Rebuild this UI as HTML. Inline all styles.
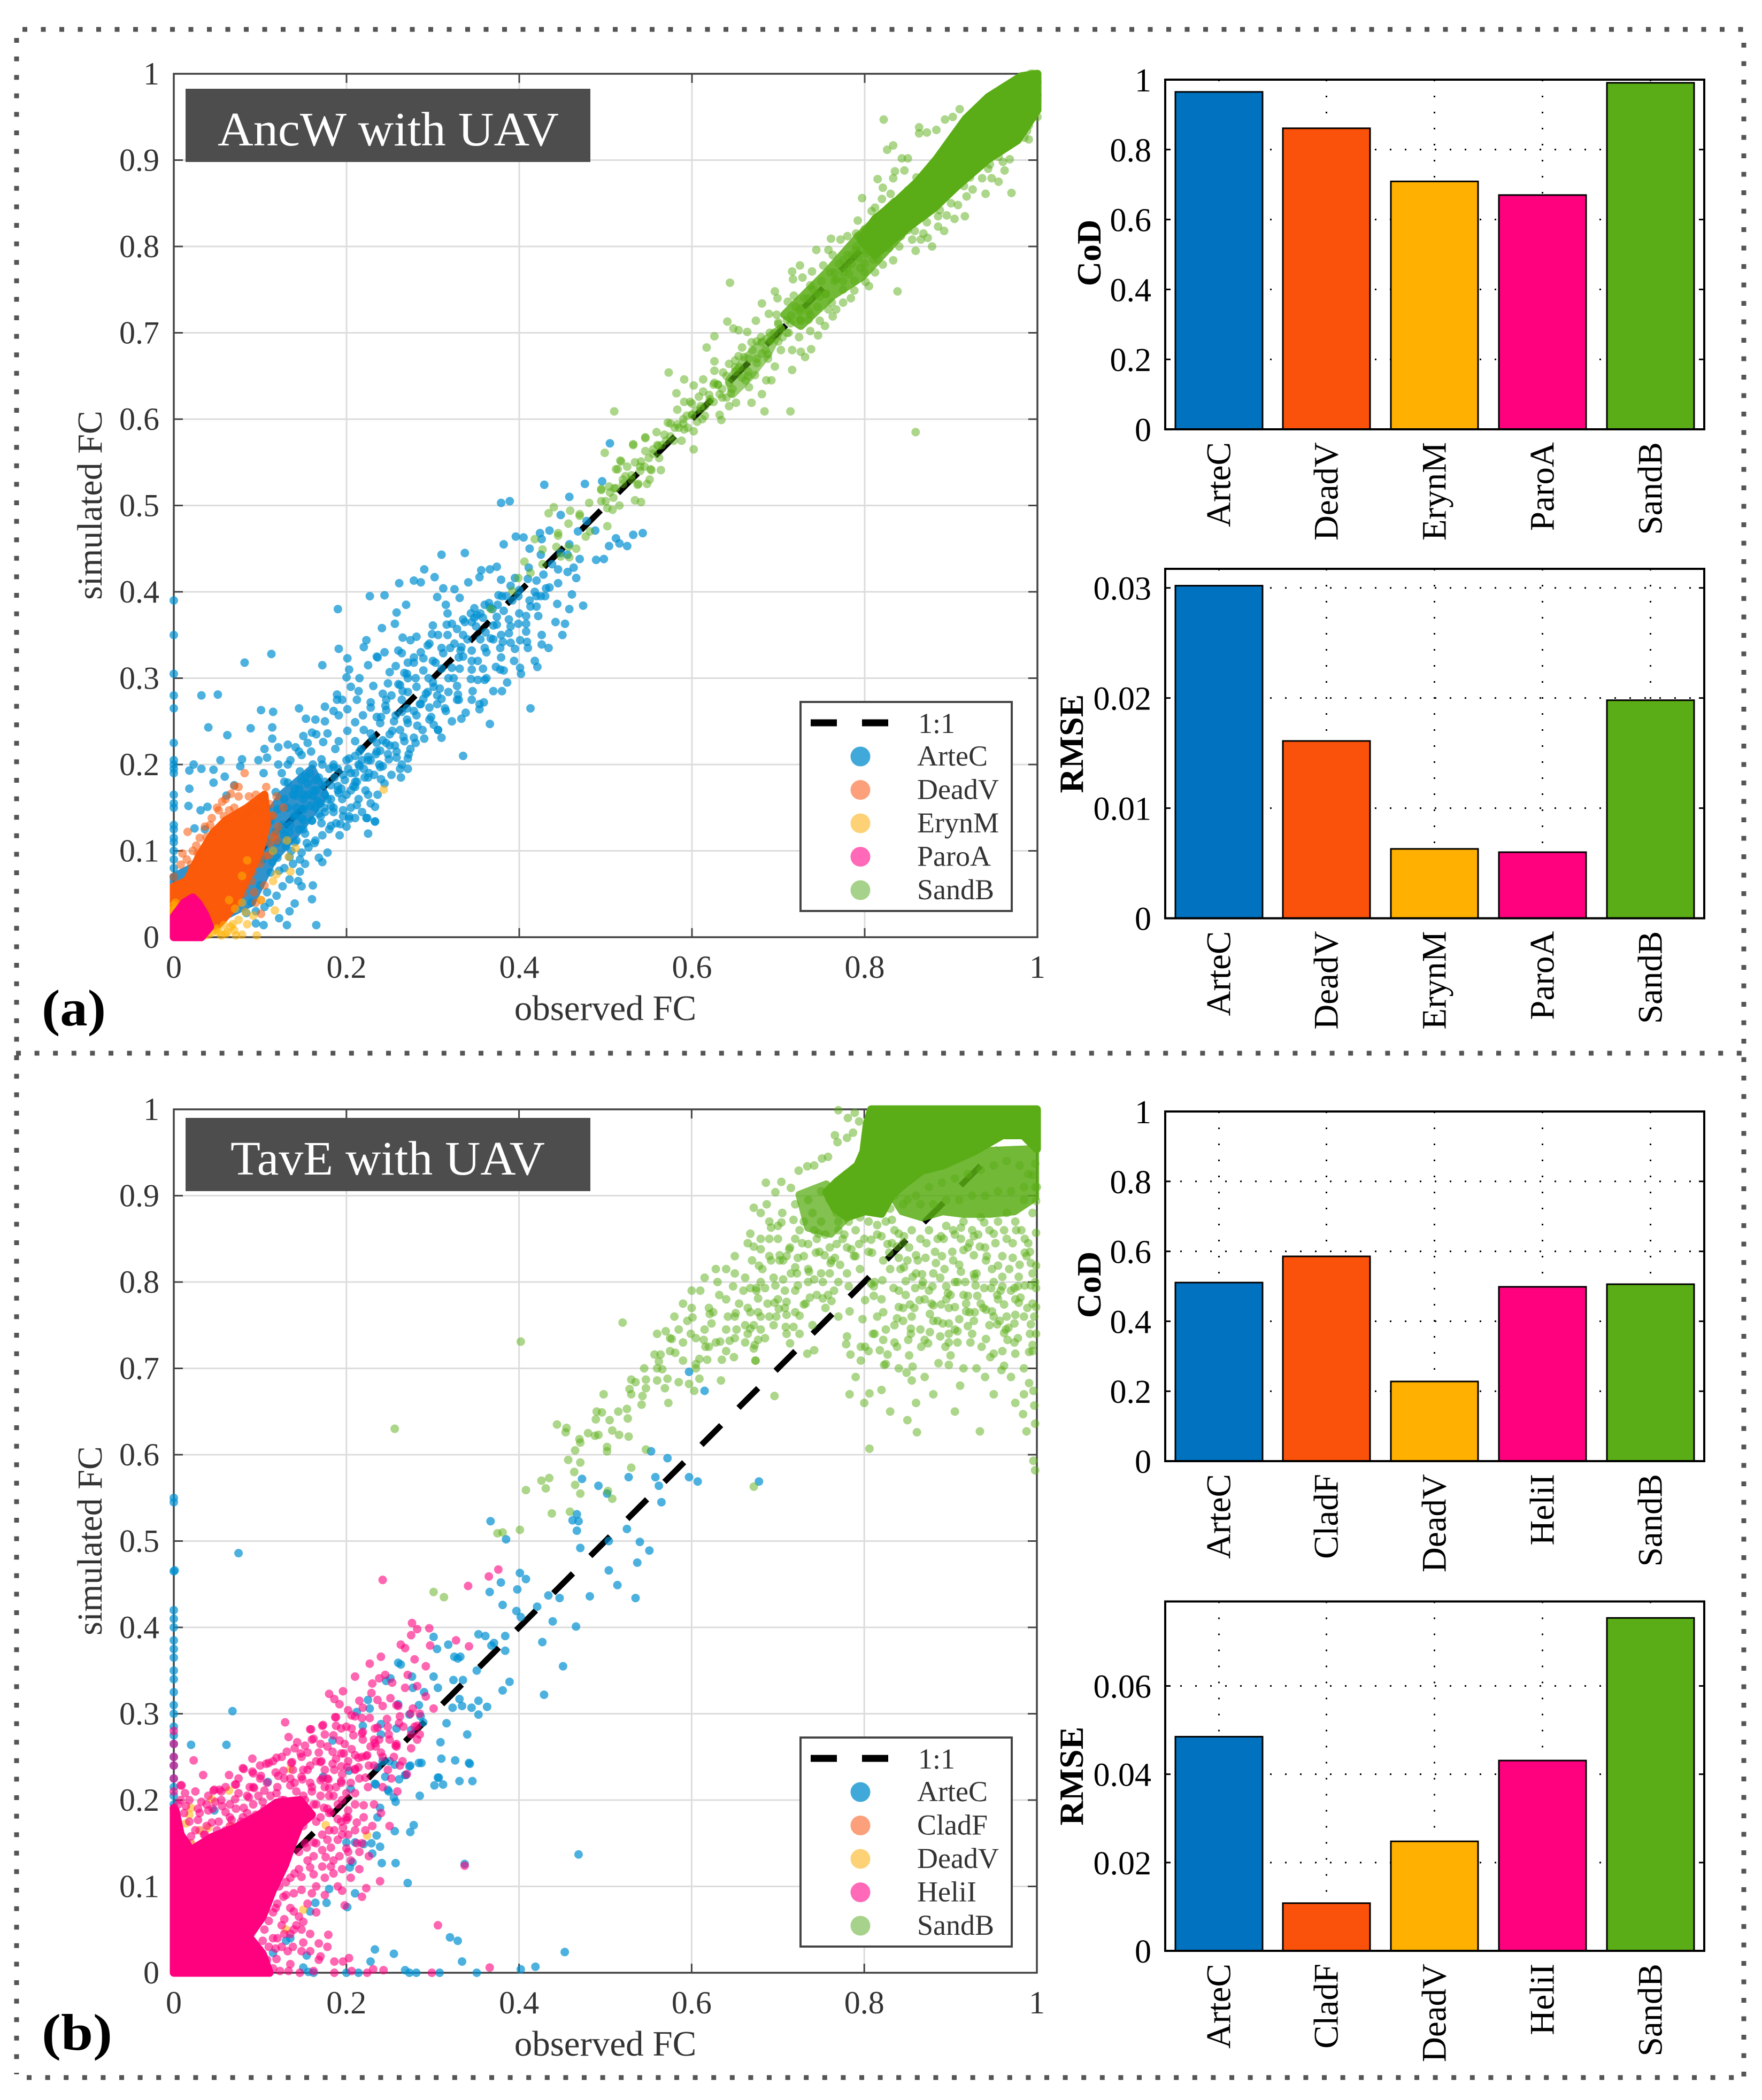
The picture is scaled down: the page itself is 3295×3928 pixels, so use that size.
<!DOCTYPE html>
<html lang="en">
<head>
<meta charset="utf-8">
<title>Observed vs simulated FC: AncW and TavE with UAV</title>
<style>
html,body{margin:0;padding:0;background:#fff}
svg{display:block}
text{font-family:"Liberation Serif",serif}
</style>
</head>
<body>
<svg id="figure" xmlns="http://www.w3.org/2000/svg" width="3295" height="3928" viewBox="0 0 3295 3928">
<rect width="3295" height="3928" fill="#fff"/>
<g id="panelAScatter"></g>
<g id="panelABars1"></g>
<g id="panelABars2"></g>
<g id="panelBScatter"></g>
<g id="panelBBars1"></g>
<g id="panelBBars2"></g>
<g stroke="#555" stroke-width="9" fill="none">
<line x1="42" y1="55" x2="3265" y2="55" stroke-dasharray="9 25.5"/>
<line x1="31" y1="71" x2="31" y2="3880" stroke-dasharray="9 25.6"/>
<line x1="3261" y1="80" x2="3261" y2="3890" stroke-dasharray="9 25.5"/>
<line x1="30" y1="1970" x2="3261" y2="1970" stroke-dasharray="9 25.6"/>
<line x1="50" y1="3886" x2="3261" y2="3886" stroke-dasharray="9 25.6"/>
</g>
<text x="78" y="1918" font-size="96" font-weight="bold" fill="#000" textLength="120" lengthAdjust="spacingAndGlyphs">(a)</text>
<text x="78" y="3834" font-size="96" font-weight="bold" fill="#000" textLength="132" lengthAdjust="spacingAndGlyphs">(b)</text>
</svg>
<script>
// Shared axis ticks
const scatterTicksX = [0, .2, .4, .6, .8, 1];
const scatterTicksY = [0, .1, .2, .3, .4, .5, .6, .7, .8, .9, 1];
const codTicks = [0, .2, .4, .6, .8, 1];
const rmseTicksA = [0, .01, .02, .03];
const rmseTicksB = [0, .02, .04, .06];

// Bar chart categories and values
const barNamesA = ['ArteC', 'DeadV', 'ErynM', 'ParoA', 'SandB'];
const barNamesB = ['ArteC', 'CladF', 'DeadV', 'HeliI', 'SandB'];
const codValuesA = [.965, .861, .709, .67, .991];
const rmseValuesA = [.0302, .0161, .0063, .006, .0198];
const codValuesB = [.5107, .5856, .2278, .4985, .506];
const rmseValuesB = [.0485, .0108, .0248, .0431, .0754];

// Panel (a) scatter points, flat x,y pairs in FC x 1000
const arteCPointsA = [505,572,429,524,476,525,496,528,458,510,379,503,389,505,448,489,488,471,435,471,424,468,396,464,405,463,426,461,382,455,532,466,543,468,512,462,516,456,525,453,504,453,489,437,498,438,412,450,337,445,310,443,425,443,456,443,470,438,411,428,463,428,456,423,445,426,374,429,366,426,356,425,354,417,290,426,302,417,278,413,286,411,261,410,341,411,312,404,325,403,379,414,395,416,390,407,445,410,431,404,466,416,420,413,376,396,399,395,420,395,430,395,461,397,444,386,474,384,413,383,420,383,227,395,244,396,305,394,331,393,269,385,315,385,190,380,258,376,317,375,348,381,365,387,369,380,408,372,422,372,344,375,351,373,374,371,388,368,399,363,408,363,453,363,370,361,256,363,300,361,241,358,322,363,328,357,337,365,361,353,379,350,388,352,408,354,317,350,299,351,265,347,281,348,274,344,367,346,381,342,390,341,401,344,409,342,426,339,395,334,223,344,220,336,191,334,294,338,244,330,260,332,264,329,310,335,312,329,333,336,360,335,345,332,236,324,278,324,201,323,289,323,330,324,379,324,113,328,82,318,172,315,257,314,271,318,303,318,352,320,373,313,401,312,421,313,382,309,203,310,250,307,267,306,289,309,310,311,331,311,358,311,200,301,271,300,324,300,344,299,360,298,260,293,281,290,248,294,231,291,301,290,328,291,380,285,214,285,189,281,32,280,51,281,242,282,271,284,294,284,318,284,329,281,189,275,212,275,228,272,246,275,264,275,289,276,310,276,328,275,345,275,359,272,354,264,145,265,175,267,101,263,115,261,201,264,228,266,246,263,264,261,296,266,315,262,413,265,191,257,219,257,257,257,281,257,333,253,153,253,164,252,366,247,210,249,239,248,271,248,301,246,40,243,89,242,114,243,62,234,160,237,150,233,178,236,201,239,228,236,253,239,278,231,310,231,306,240,114,230,132,223,173,226,191,227,210,227,246,225,267,227,105,218,121,220,141,220,159,215,187,218,217,218,239,216,258,215,148,211,335,210,108,208,54,205,79,206,98,205,171,206,203,207,225,209,249,206,271,207,23,200,32,195,18,193,77,198,121,200,132,200,161,200,185,197,214,200,239,197,262,195,271,195,46,194,104,190,59,186,146,192,153,186,196,188,221,185,232,188,263,185,240,183,18,172,46,179,70,176,61,164,132,179,164,182,182,176,210,174,225,165,191,167,141,164,161,164,17,152,31,147,39,151,233,151,212,153,182,152,196,147,150,149,168,143,223,138,233,134,171,132,182,129,193,131,24,126,36,125,225,120,139,140,203,140,178,98,172,87,168,92,161,60,160,44,140,39,165,14,131,14,104,14,95,16,122,22,134,30,233,134,224,138,203,137,154,109,163,109,146,90,134,93,146,76,148,59,126,59,134,67,122,77,114,87,103,90,119,48,111,40,138,85,142,112,152,120,0,390,0,350,0,305,0,280,0,265,0,225,0,205,0,200,0,195,0,190,0,165,0,155,0,150,0,130,0,125,0,115,0,110,0,100,0,90,0,80,0,70,175,180,190,175,185,200,200,205,165,170,210,190,215,215,225,205,235,225,250,235,220,240,240,255,255,250,270,265,285,270,265,285,280,300,295,300,305,280,300,320,320,335,335,350,345,320,355,345,345,365,375,385,385,395,355,375,195,160,205,170,185,150,170,155,150,135,160,135,175,145,125,125,130,105,145,125,115,100,190,195,210,210,230,230,150,165];
const arteCExtraA = [132,150,138,165,145,172,150,160,155,178,162,170,168,185,175,165,180,195,172,200,158,190,148,182,140,172,128,160,120,148,112,135,118,122,128,118,135,130,142,142,150,148,158,152,166,158,174,150,182,160,190,170,198,182,205,190,212,180,220,195,228,205,235,215,242,228,222,170,214,160,205,150,196,140,188,132,180,125,172,118,164,112,156,104,148,98,140,110,150,125,160,135,170,140,185,145,200,165,208,175,215,198,225,185,238,200,248,212,256,222,262,240,270,252,278,262,286,270,292,282,300,295,305,270,296,252,288,240,280,225,272,212,264,200,252,188,244,178,236,165,228,155,218,145,210,138,200,128,192,118,235,255,245,268,252,280,262,292,270,305,278,318,286,330,296,340,306,350,316,362,325,340,335,325,345,310,352,298,318,300,308,288,322,312,332,332,340,345,350,360,358,370,366,382,374,362,382,378,392,390,400,402,410,415,418,400,428,420,438,432,448,445,458,455,468,470,478,482,362,330,370,345,378,335,390,360,400,375,412,390,425,395,435,405,380,395,360,385,348,370,335,368,128,180,118,168,108,150,100,132,92,120,85,105,125,190,135,205,145,215,155,225,165,235,175,250,185,262,195,275,205,290,215,300,225,315,235,325,108,110,100,100,112,75,120,92,128,80,136,100,144,65,152,85,100,60,108,52,90,40,84,28,95,30,105,35,120,110,126,130,134,122,142,150,148,138,156,165,164,150,172,176,178,160,186,185,194,172,202,195,210,180,218,205,226,190,234,212,242,198,250,222,258,208,266,232,274,218,282,245,290,230,298,255,306,240,314,265,322,250,330,275,338,260,346,285,354,270,362,300,370,285,378,310,386,295,394,320,402,305,410,335,418,320,426,350,434,335,442,365,450,350,458,380];
const deadVPointsA = [82,190,75,174,107,174,87,163,66,166,119,163,127,150,52,147,44,138,36,128,16,122,38,116,26,106,10,97,8,84,20,84,28,97,0,70,115,116,119,112,105,94,91,75,93,52,101,27,101,43,75,163,56,157,95,150,111,154,87,144,64,147,46,122,60,135,115,141,107,131,121,128,103,116,111,109,93,84,83,59,75,40];
const deadVExtraA = [70,175,60,160,50,150,42,130,30,115,22,100,15,90,95,165,105,160,100,145,112,140,90,150,80,140,70,150,58,140,118,120,110,95,100,85,90,65,80,50,105,60,95,40];
const erynMPointsA = [243,171,141,103,131,112,133,93,115,100,119,73,115,65,135,76,85,89,79,71,71,33,79,40,64,43,83,29,101,43,117,31,96,2,79,3,52,6,44,5,36,2,68,15,0,37,0,30,60,4,70,8,40,3,48,8,55,2,62,6,72,2,66,12,58,14,50,10,30,2,35,10,0,32,0,25,2,40,75,20,85,15,92,25];
const sandBPointsA = [822,947,863,938,863,931,872,932,883,935,893,947,902,950,910,959,826,912,833,917,843,902,850,902,815,878,835,887,833,879,846,888,821,868,830,861,820,855,797,856,812,845,970,862,962,888,940,861,918,858,908,848,916,835,904,832,895,836,887,842,885,823,892,818,878,800,859,795,873,810,865,808,855,808,868,815,850,819,955,875,968,901,960,898,985,926,990,924,988,934,943,890,947,879,925,866,936,879,955,904,805,754,838,748,833,784,821,779,812,770,801,759,788,749,775,735,784,740,792,830,808,841,761,809,772,808,780,812,744,796,790,815,758,796,725,778,716,771,717,762,728,764,739,771,696,748,699,740,681,734,644,758,711,736,718,743,737,755,752,778,763,790,775,784,793,787,767,762,782,768,754,708,763,719,748,714,767,727,758,727,746,697,737,702,724,695,689,722,698,721,674,714,641,713,648,705,654,703,664,701,626,696,617,683,681,689,692,692,703,705,714,711,726,714,737,721,716,680,726,678,738,681,731,672,703,680,696,661,716,657,658,683,669,689,654,673,666,670,681,676,688,670,626,667,643,664,636,654,626,656,573,654,591,646,602,639,613,646,626,642,643,642,658,648,673,651,686,645,692,645,666,637,582,630,613,632,632,629,647,635,681,629,669,619,651,619,643,615,684,609,714,609,859,585,510,609,583,611,591,620,598,620,608,626,621,623,634,599,632,605,615,604,606,597,594,604,583,594,572,596,568,582,602,586,602,565,559,585,546,579,532,571,499,561,517,552,534,550,514,542,564,541,553,541,538,525,551,530,504,522,495,519,546,563,561,569,579,575,591,588,546,578,532,570,518,551,512,542,541,551,552,542,537,524,523,534,495,518,509,509,502,497,481,503,440,498,434,491,459,494,470,488,457,479,502,476,477,464,445,468,418,461,466,450,457,452,443,452,427,449,448,441,406,435,427,432,413,422,399,416,392,401,367,380,516,500,534,506,541,504,620,620,630,640,600,605,590,600,610,612,640,625,650,655,665,655,675,665,690,690,700,690,710,700,725,725,735,740,745,730,755,745,765,770,775,760,785,790,795,775,805,800,810,785,815,820,825,805,835,830,840,845,850,835,860,855,870,860,880,865,890,890,900,885,910,905,920,915,930,925,940,930,950,925,960,945,970,950,980,960,545,545,555,560,565,570,575,580,585,590,595,590,505,515,520,525,530,530,540,540];
const sandBExtraA = [780,775,790,800,800,780,810,815,820,800,825,830,835,810,845,850,840,800,855,840,860,870,870,845,875,880,885,860,890,890,895,870,905,905,910,880,915,925,925,895,930,935,935,905,945,955,950,915,955,925,960,960,965,935,970,965,975,945,980,975,985,950,990,985,995,965,1000,990,1000,975,995,1000,985,995,975,985,965,980,950,970,940,962,930,950,920,940,910,925,900,915,890,905,880,895,870,885,860,880,850,865,840,855,830,845,820,835,810,825,800,820,790,795,780,790,770,780,760,770,750,760,740,750,730,740,720,730,710,715,700,710,690,700,680,695,670,680,660,672,650,660,640,650,630,640,620,628,610,615,600,605,590,595,580,590,570,575,560,570,550,555,540,545,530,535,520,530,510,520,500,505,945,925,955,915,965,925,975,940,985,945,990,955,930,915,920,905,905,885,895,885,885,870,875,870,865,855,855,840,845,830,835,825,825,820,815,810,805,795,795,795,785,780,775,770,765,760,755,745,745,745,735,725,725,715,715,720,705,695,695,700,685,680,675,670,665,650,655,660,645,630,635,635,625,620,615,615,605,610,792,812,802,792,812,828,822,812,832,842,842,820,852,862,862,838,872,885,882,848,892,905,902,868,912,925,922,880,932,945,942,905,952,965,962,925,972,985,982,945,992,1000,1000,950,990,940,975,930,958,918,945,895,930,890,915,870,900,850,885,835,872,828,858,818,842,812,828,798,815,785,800,770,788,760,775,750,762,735,748,742,735,715,725,728,712,700,700,712,688,675,675,690,662,645,650,668,635,625,625,640,612,600,600,618,588,575,575,595,562,555,555,565,548,525,525,545,512,520,508,495,495,505,482,470,470,490,458,440,445,465];

// Panel (a) dense clouds, outlines in FC x 1000
const arteCCoreA = [[0,30],[50,20],[90,40],[115,90],[150,130],[175,165],[160,195],[125,165],[100,125],[60,100],[0,70]];
const deadVCoreA = [[0,59],[15,65],[30,95],[45,120],[60,135],[85,150],[105,165],[108,130],[99,97],[83,65],[68,33],[52,15],[32,8],[0,27]];
const paroACoreA = [[0,0],[32,0],[42,12],[36,27],[28,40],[22,46],[12,40],[0,24]];
const sandBCoreA = [[795,808],[812,832],[831,847],[861,875],[883,901],[917,948],[943,973],[981,997],[1000,1000],[1000,958],[977,923],[943,901],[906,869],[880,844],[846,819],[812,790]];
const sandBMidA = [[707,721],[756,770],[793,812],[835,852],[850,822],[797,765],[763,743],[726,708]];
const sandBLowA = [[643,645],[662,670],[681,689],[703,705],[688,676],[666,648],[647,629]];

// Panel (b) scatter points, flat x,y pairs in FC x 1000
const arteCPointsB = [75,486,1,466,367,523,385,502,467,512,462,524,469,523,467,531,471,492,504,500,525,514,540,499,551,489,537,475,504,466,514,449,535,434,482,436,447,434,434,437,421,424,401,463,408,456,379,452,398,444,366,441,381,426,397,419,402,412,439,407,466,401,427,383,451,355,384,390,361,390,353,392,301,389,318,380,305,375,371,382,368,379,384,373,329,364,325,366,332,366,260,359,263,357,351,350,301,343,276,343,251,341,246,338,324,339,335,339,306,330,277,330,389,337,381,327,429,322,290,325,225,316,331,317,353,315,363,308,345,307,334,309,323,307,284,310,260,311,273,299,353,299,286,297,212,302,227,306,289,290,316,289,340,276,219,286,240,288,258,283,275,281,240,276,184,269,309,267,20,264,61,264,310,248,326,246,342,243,284,243,273,239,242,245,250,245,236,238,256,241,268,229,245,227,306,226,331,222,346,222,302,217,312,218,261,224,234,218,173,227,203,234,109,221,205,213,248,212,68,303,553,604,473,572,492,564,502,555,527,574,558,574,562,564,565,545,597,574,607,569,572,596,597,696,615,674,678,569,343,242,307,226,285,205,287,243,274,240,269,229,233,219,255,203,249,210,257,198,239,191,236,180,235,159,256,164,278,171,274,163,239,146,229,150,220,149,210,151,200,151,230,138,241,127,257,127,207,128,204,122,271,104,180,97,210,92,164,81,177,81,158,71,201,76,329,37,233,27,255,22,334,13,228,13,268,3,273,0,281,0,308,0,351,0,200,0,214,0,154,20,150,6,156,1,162,0,115,23,130,37,135,40,47,188,419,7,402,4,469,137,453,24,320,41,337,126,0,550,0,545,0,465,0,420,0,410,0,400,0,385,0,375,0,365,0,350,0,340,0,325,0,310,0,300,0,285,0,275,0,265,0,250,0,240,0,225,0,215,0,205,0,195,0,190];
const cladFPointsB = [20,150,30,165,35,150];
const deadVPointsB = [224,159,44,201,20,191,18,183,14,173,40,168,67,170,52,157,12,141,150,73,130,50,91,19,135,236,64,211,176,171];
const heliIPointsB = [337,124,239,106,306,55,366,6,223,98,190,100,218,88,198,78,179,44,168,34,203,17,186,13,196,13,170,19,148,25,132,25,299,0,224,0,243,3,231,4,206,2,186,0,162,2,146,0,135,10,123,2,259,210,220,194,200,144,190,154,178,154,162,151,172,142,176,134,200,177,212,174,190,178,202,180,196,168,154,145,158,122,182,123,172,123,148,111,162,114,148,96,160,92,139,92,127,88,139,71,150,59,139,50,103,37,99,27,119,16,133,2,129,290,158,282,133,273,160,270,188,296,172,286,206,298,194,283,218,277,233,283,249,276,261,289,279,285,285,276,143,267,131,256,152,263,184,256,194,254,206,259,224,252,214,249,257,263,233,266,23,246,91,248,119,249,137,244,107,242,80,237,34,229,64,229,91,233,127,234,170,244,194,239,210,236,222,226,71,218,93,214,105,211,8,217,13,208,46,211,55,210,180,214,200,208,210,208,194,220,170,223,148,227,135,217,119,208,87,203,71,201,56,193,40,188,14,193,32,198,28,177,44,174,60,186,81,191,103,198,67,177,95,183,150,188,174,191,182,186,202,188,36,160,52,154,20,158,8,154,83,171,242,455,341,448,365,459,376,467,276,405,275,391,282,398,296,399,263,380,268,376,297,379,327,385,342,378,240,366,227,358,279,363,292,355,210,343,238,341,271,345,282,332,253,336,196,326,180,323,186,317,192,311,229,324,236,316,251,318,242,309,260,309,202,304,219,307,277,306,301,306,187,296,210,297,227,295,247,294,262,297,159,282,173,287,188,286,206,283,219,279,236,284,282,286,162,271,175,276,192,269,219,270,232,270,258,265,275,276,147,254,197,254,210,252,223,251,136,243,110,243,81,236,92,231,171,245,184,242,201,238,214,238,101,228,121,228,149,224,179,224,72,218,88,215,9,217,47,212,53,212,0,280,0,265,0,250,0,240,0,225,0,210,160,210,175,215,150,205,165,195,185,205,140,220,155,235,175,235,195,230,125,200,130,185,165,175,180,165,195,160,150,170,165,150,145,140,140,115,130,105,120,80,115,70,110,60,125,55,120,40,105,50,110,30,100,15,115,5,105,8];
const heliIExtraB = [5,195,12,185,18,175,25,165,30,185,38,170,45,190,52,175,60,165,65,180,72,190,78,175,85,185,92,195,98,205,105,190,112,205,120,215,128,200,135,225,142,210,150,235,158,220,165,245,172,225,180,205,188,215,195,200,205,220,215,225,225,215,232,240,240,255,248,235,255,250,265,245,275,260,285,300,292,320,268,330,258,310,248,285,238,270,228,262,218,295,208,275,198,265,188,248,178,262,168,255,158,240,148,250,138,235,128,225,118,232,108,220,100,225,92,215,85,205,75,208,65,195,55,200,48,198,38,195,28,190,18,200,8,200,162,195,170,180,178,190,186,165,194,175,202,160,210,165,218,150,226,135,215,140,205,130,195,120,185,130,175,110,165,100,155,130,145,120,135,110,130,90,122,100,118,75,128,62,135,45,142,55,150,35,158,45,125,30,115,40,108,15,118,28,142,190,152,200,160,215,170,205,178,225,186,235,194,222,202,245,210,235,218,250,226,240,234,262,242,250,250,270,258,262,266,285,274,300,282,270,180,185,190,195,200,180,210,195,220,180,230,170,240,185,250,170,215,120,205,110,195,95,185,115,175,90,165,70,155,80,145,65,135,75,128,45,138,30,148,50,158,25,168,15,178,30,142,170,135,160,152,150,162,135,172,160,182,145,192,135,202,140,212,150,222,165,232,195,242,215,252,225,262,240,270,230,110,185,95,175,80,180,65,170,50,165,35,160,15,150,5,170,25,210,40,205,60,215,75,225,100,240,115,245,125,250,140,260,155,255,170,265,185,275,200,285,215,315,230,335,245,345];
const sandBPointsB = [686,915,704,916,672,886,680,880,687,890,697,904,715,909,724,929,734,934,742,935,758,945,751,943,766,970,769,962,781,990,770,999,789,996,794,986,780,967,787,973,998,937,995,924,998,910,999,894,999,857,999,819,999,793,999,771,997,760,999,740,995,727,991,719,991,683,996,674,997,657,984,647,998,636,988,627,996,593,998,582,806,607,861,626,934,627,806,671,783,670,911,680,855,686,849,695,856,702,696,668,886,706,898,704,959,698,962,703,946,713,950,717,975,717,823,704,796,709,784,716,827,716,818,721,779,728,796,725,801,725,780,737,822,733,812,740,851,733,854,740,854,746,870,733,874,729,876,742,888,737,898,730,898,740,908,743,923,730,941,734,966,733,974,730,962,741,967,747,954,751,974,752,993,751,957,755,927,755,920,749,910,757,891,752,898,752,876,763,880,773,889,774,905,771,918,766,928,765,941,768,948,766,962,774,975,762,979,776,989,770,838,758,845,755,840,771,853,774,864,779,798,757,783,766,801,779,762,778,752,781,737,782,730,774,710,777,696,776,701,769,710,762,725,761,718,748,709,748,714,729,734,717,742,721,677,733,672,723,674,709,668,746,677,765,811,784,811,795,808,798,821,802,834,793,848,801,859,793,867,796,879,795,895,795,905,800,917,800,929,796,939,793,947,793,960,795,974,793,986,796,993,796,897,787,920,784,931,784,954,785,981,782,808,849,815,866,809,834,820,853,827,844,838,841,840,856,832,872,846,853,829,834,840,828,846,817,860,831,871,828,883,822,893,815,903,825,915,837,927,831,941,825,955,819,972,828,986,834,993,822,889,853,903,860,912,863,927,853,939,869,950,856,965,850,976,860,986,850,934,841,856,806,867,809,912,812,927,809,960,806,979,806,794,844,777,855,785,838,766,828,761,822,754,831,744,834,735,844,723,828,713,838,702,831,690,850,680,838,672,841,668,856,692,863,704,869,718,872,725,860,747,856,768,844,678,819,692,825,706,825,720,817,736,812,742,803,723,796,697,796,685,793,675,793,668,793,706,803,677,781,402,731,520,753,256,630,570,743,577,734,601,759,621,763,599,740,614,733,623,752,644,732,633,731,649,713,651,764,662,750,673,727,674,709,557,716,564,716,581,718,590,709,562,708,566,699,609,711,616,725,605,700,530,687,535,684,547,687,560,686,572,688,585,684,597,682,609,688,634,686,603,674,528,676,547,677,569,677,498,670,543,668,542,658,573,660,525,653,496,649,489,641,526,642,444,635,455,631,454,626,508,628,516,623,527,621,488,622,492,623,470,618,471,614,502,609,502,604,547,606,457,594,471,591,530,585,464,580,426,570,435,573,465,565,431,561,408,559,471,555,503,558,508,549,672,563,438,532,459,534,401,513,375,509,381,510,301,441,313,435];
const sandBExtraB = [560,740,580,760,590,775,610,790,620,770,630,800,640,780,650,810,660,790,670,825,650,760,640,745,665,770,680,800,690,830,700,850,710,830,720,850,730,870,740,880,750,870,760,895,745,850,730,830,715,810,700,780,690,760,680,745,760,840,770,860,780,840,790,860,800,850,805,870,815,855,825,870,835,860,845,845,855,860,865,850,875,860,885,850,895,865,905,855,915,870,925,860,935,875,945,860,955,870,965,880,975,870,985,895,995,880,820,780,830,815,840,790,850,825,860,810,870,780,880,810,890,830,900,785,910,820,920,840,930,810,940,840,950,800,960,830,970,790,980,820,990,845,995,810,805,720,815,760,825,745,835,730,845,770,855,760,865,745,875,790,885,755,895,780,905,745,915,785,925,740,935,775,945,750,955,780,965,760,975,780,985,760,995,775,790,690,820,675,840,700,870,690,900,715,930,700,960,720,985,700,995,720,860,660,905,650,950,670,975,660,720,790,735,800,750,810,765,790,780,810,790,830,770,760,755,770,740,750,725,740,710,740,695,750,680,760,665,740,650,735,635,710,620,725,605,735,590,730,575,720,560,700,545,700,530,670,515,650,505,640,490,650,480,625,465,605,800,900,810,920,790,905,780,890,770,870,815,890,830,885,845,890,860,900,875,910,890,915,905,920,920,925,935,930,950,935,965,940,980,935,990,925,1000,910,985,910,970,905,955,905,940,900,925,900,910,895,895,895,880,890,865,890,850,895,835,900,575,735,585,745,595,755,600,770,615,745,625,765,632,785,642,760,648,795,655,775,662,805,668,765,675,790,682,815,688,775,695,805,702,825,708,790,714,840,722,810,728,845,735,815,742,860,748,835,755,855,762,825,768,880,775,850,782,870,788,830,795,875,752,800,760,810,772,820,782,795,795,815,805,835,812,800,822,825,832,845,842,815,852,840,862,825,872,845,882,835,892,850,902,835,912,850,922,845,932,855,942,830,952,845,962,860,972,845,982,860,992,835,605,705,618,710,628,730,640,720,652,745,662,730,672,750,685,735,698,760,708,770,720,765,732,775,745,785,758,785,770,800,810,740,822,765,835,750,848,785,858,770,868,800,878,775,888,805,898,770,908,800,918,775,928,805,938,770,948,815,958,790,968,815,978,795,988,830,998,800,825,705,838,725,852,715,866,725,880,755,894,725,908,730,922,765,936,725,950,760,964,745,978,735,992,740,800,660,830,650,850,640,880,670,915,700,940,690,970,690,985,670,690,870,705,880,720,890,735,895,750,905,765,895,780,905,700,865,680,850,665,845,650,830,640,815,628,815,615,805,600,790];

// Panel (b) dense clouds, outlines in FC x 1000
const heliICoreB = [[0,0],[111,0],[103,22],[87,42],[103,65],[115,96],[129,125],[135,142],[146,171],[160,183],[146,200],[119,197],[99,183],[71,168],[44,157],[20,142],[8,160],[2,188],[0,191]];
const sandBCoreB = [[808,1000],[1000,1000],[1000,954],[984,970],[960,970],[927,951],[891,935],[867,929],[846,913],[832,901],[820,879],[801,882],[780,875],[766,885],[756,904],[768,916],[792,935],[799,951],[803,983]];
const sandBMidB = [[998,954],[998,898],[974,882],[946,879],[915,879],[891,882],[867,875],[844,882],[832,901],[867,929],[927,951]];
const sandBLeftB = [[725,901],[756,913],[780,875],[761,856],[735,863]];

const seriesStyle = {
  ArteC: {color: '#0090d2', core: '#0078c0', opacity: .7, legend: '#40a9d9'},
  CladF: {color: '#fa5a0a', core: '#fa5a0a', opacity: .55, legend: '#fba07a'},
  DeadV: {color: '#fa5a0a', core: '#fa5a0a', opacity: .55, legend: '#fba07a'},
  ErynM: {color: '#ffb000', core: '#ffb000', opacity: .55, legend: '#fdd277'},
  DeadVYellow: {color: '#ffb000', core: '#ffb000', opacity: .55, legend: '#fdd277'},
  ParoA: {color: '#ff007f', core: '#ff007f', opacity: .6, legend: '#ff69b8'},
  HeliI: {color: '#ff007f', core: '#ff007f', opacity: .6, legend: '#ff69b8'},
  SandB: {color: '#5aad16', core: '#5aad16', opacity: .5, legend: '#a7d28b'}
};
const barColors = ['#0072c0', '#fb520b', '#ffb000', '#ff007f', '#5aad16'];
const SVGNS = 'http://www.w3.org/2000/svg';

function make(parent, tag, attrs, content) {
  const node = document.createElementNS(SVGNS, tag);
  for (const k in attrs) node.setAttribute(k, attrs[k]);
  if (content !== undefined) node.textContent = content;
  parent.appendChild(node);
  return node;
}
function outlinePath(fx, fy, outline) {
  return outline.map((p, i) => (i ? 'L' : 'M') + fx(p[0] / 1000) + ' ' + fy(p[1] / 1000)).join('') + 'Z';
}

function drawScatter(root, cfg) {
  const L = 325, R = cfg.right, B = cfg.bottom, T = B - 1615;
  const fx = v => L + v * (R - L);
  const fy = v => B - v * 1615;
  for (const t of scatterTicksX) {
    const el = make(root, 'line', {x1: fx(t), x2: fx(t), y1: T, y2: B, stroke: '#dcdcdc', 'stroke-width': 3});
    
    
  }
  for (const t of scatterTicksY) {
    const el = make(root, 'line', {x1: L, x2: R, y1: fy(t), y2: fy(t), stroke: '#dcdcdc', 'stroke-width': 3});
    
    
  }
  const frame = make(root, 'rect', {x: L, y: T, width: R - L, height: 1615, fill: 'none', stroke: '#444', 'stroke-width': 3.5});
  
  
  for (const t of scatterTicksX) {
    const el = make(root, 'path', {d: 'M' + fx(t) + ' ' + T + 'v17M' + fx(t) + ' ' + B + 'v-17', stroke: '#444', 'stroke-width': 3, fill: 'none'});
    
    
    const lb = make(root, 'text', {x: fx(t), y: B + 76, 'font-size': 60, fill: '#333', 'text-anchor': 'middle'}, String(t));
    
    
  }
  for (const t of scatterTicksY) {
    const el = make(root, 'path', {d: 'M' + L + ' ' + fy(t) + 'h17M' + R + ' ' + fy(t) + 'h-17', stroke: '#444', 'stroke-width': 3, fill: 'none'});
    
    
    const lb = make(root, 'text', {x: 298, y: fy(t) + 20, 'font-size': 60, fill: '#333', 'text-anchor': 'end'}, String(t));
    
    
  }
  const xt = make(root, 'text', {x: 1132, y: B + 155, 'font-size': 67, fill: '#333', 'text-anchor': 'middle'}, 'observed FC');
  
  
  const yt = make(root, 'text', {transform: 'translate(190 ' + (B - 808) + ') rotate(-90)', 'font-size': 66, fill: '#333', 'text-anchor': 'middle'}, 'simulated FC');
  
  

  const oneToOne = make(root, 'line', {x1: fx(0), y1: fy(0), x2: fx(cfg.lineEnd), y2: fy(cfg.lineEnd), stroke: '#000', 'stroke-width': 11, 'stroke-dasharray': '52 46', 'stroke-dashoffset': cfg.dashOffset});
  
  

  for (const s of cfg.series) {
    const st = seriesStyle[s.style];
    const g = make(root, 'g', {});
    
    
    for (const cloud of s.clouds) {
      const c = make(g, 'path', {d: outlinePath(fx, fy, cloud.outline), fill: st.core, stroke: st.core, 'stroke-width': 15, 'stroke-linejoin': 'round', opacity: cloud.opacity});
      
      
    }
    for (let i = 0; i + 1 < s.points.length; i += 2) {
      const pt = make(g, 'circle', {cx: fx(s.points[i] / 1000), cy: fy(s.points[i + 1] / 1000), r: 8, fill: st.color, 'fill-opacity': st.opacity});
      
      
    }
  }

  // Title box
  const tg = make(root, 'g', {});
  
  
  const box = make(tg, 'rect', {x: 347, y: T + cfg.titleTop, width: 757, height: 137, fill: '#4d4d4d'});
  
  
  const tt = make(tg, 'text', {x: cfg.titleX, y: T + cfg.titleTop + 106, 'font-size': 90, fill: '#fff', textLength: cfg.titleLen, lengthAdjust: 'spacingAndGlyphs'}, cfg.title);
  
  

  // Legend
  const lg = make(root, 'g', {});
  
  
  const top = B - 440;
  const lb = make(lg, 'rect', {x: 1497, y: top, width: 395, height: 391, fill: '#fff', stroke: '#444', 'stroke-width': 4});
  
  
  const sample = make(lg, 'line', {x1: 1516, x2: 1662, y1: top + 39, y2: top + 39, stroke: '#000', 'stroke-width': 13, 'stroke-dasharray': '49 47'});
  
  
  const t0 = make(lg, 'text', {x: 1717, y: top + 58, 'font-size': 54, fill: '#333'}, '1:1');
  
  
  cfg.series.forEach((s, i) => {
    const cy = top + 102 + i * 62.5;
    const m = make(lg, 'circle', {cx: 1609, cy: cy, r: 18.5, fill: seriesStyle[s.style].legend});
    
    
    const l = make(lg, 'text', {x: 1715, y: cy + 17, 'font-size': 54, fill: '#333'}, s.name);
    
    
  });
}

function drawBars(root, cfg) {
  const L = 2179, R = 3187, T = cfg.top, B = cfg.bottom;
  const fy = v => B - (v / cfg.max) * (B - T);
  const bandX = [2198, 2399, 2601, 2803, 3005];
  const barW = 163;
  const centre = i => bandX[i] + barW / 2;
  for (let i = 0; i < cfg.names.length; i++) {
    const g = make(root, 'line', {x1: centre(i), x2: centre(i), y1: T, y2: B, stroke: '#000', 'stroke-width': 3, 'stroke-dasharray': '3 27'});
    
    
  }
  for (const t of cfg.ticks) {
    const g = make(root, 'line', {x1: L, x2: R, y1: fy(t), y2: fy(t), stroke: '#000', 'stroke-width': 3, 'stroke-dasharray': '3 25'});
    
    
    const m = make(root, 'path', {d: 'M' + L + ' ' + fy(t) + 'h10M' + R + ' ' + fy(t) + 'h-10', stroke: '#000', 'stroke-width': 3, fill: 'none'});
    
    
    const lb = make(root, 'text', {x: 2153, y: fy(t) + 22, 'font-size': 62, fill: '#000', 'text-anchor': 'end'}, String(t));
    
    
  }
  cfg.names.forEach((name, i) => {
    const bar = make(root, 'rect', {x: bandX[i], y: fy(cfg.values[i]), width: barW, height: B - fy(cfg.values[i]), fill: barColors[i], stroke: '#000', 'stroke-width': 3});
    
    
    const lb = make(root, 'text', {transform: 'translate(' + (centre(i) + 21) + ' ' + (B + 24) + ') rotate(-90)', 'font-size': 65, fill: '#000', 'text-anchor': 'end'}, name);
    
    
  });
  const frame = make(root, 'rect', {x: L, y: T, width: R - L, height: B - T, fill: 'none', stroke: '#000', 'stroke-width': 4});
  
  
  const title = make(root, 'text', {transform: 'translate(' + cfg.titleX + ' ' + cfg.titleY + ') rotate(-90)', 'font-size': 64, 'font-weight': 'bold', fill: '#000', 'text-anchor': 'middle'}, cfg.title);
  
  
}

drawScatter(document.getElementById('panelAScatter'), {
  right: 1940, bottom: 1753, lineEnd: 1, dashOffset: 1,
  title: 'AncW with UAV', titleX: 407, titleLen: 638, titleTop: 28,
  series: [
    {name: 'ArteC', style: 'ArteC', points: arteCPointsA.concat(arteCExtraA), clouds: [{outline: arteCCoreA, opacity: .8}]},
    {name: 'DeadV', style: 'DeadV', points: deadVPointsA.concat(deadVExtraA), clouds: [{outline: deadVCoreA, opacity: 1}]},
    {name: 'ErynM', style: 'ErynM', points: erynMPointsA, clouds: []},
    {name: 'ParoA', style: 'ParoA', points: [], clouds: [{outline: paroACoreA, opacity: 1}]},
    {name: 'SandB', style: 'SandB', points: sandBPointsA.concat(sandBExtraA), clouds: [{outline: sandBCoreA, opacity: 1}, {outline: sandBMidA, opacity: .85}, {outline: sandBLowA, opacity: .6}]}
  ]
});
drawScatter(document.getElementById('panelBScatter'), {
  right: 1939, bottom: 3690, lineEnd: .955, dashOffset: 74,
  title: 'TavE with UAV', titleX: 431, titleLen: 588, titleTop: 16,
  series: [
    {name: 'ArteC', style: 'ArteC', points: arteCPointsB, clouds: []},
    {name: 'CladF', style: 'CladF', points: cladFPointsB, clouds: []},
    {name: 'DeadV', style: 'DeadVYellow', points: deadVPointsB, clouds: []},
    {name: 'HeliI', style: 'HeliI', points: heliIPointsB.concat(heliIExtraB), clouds: [{outline: heliICoreB, opacity: 1}]},
    {name: 'SandB', style: 'SandB', points: sandBPointsB.concat(sandBExtraB), clouds: [{outline: sandBMidB, opacity: .85}, {outline: sandBLeftB, opacity: .75}, {outline: sandBCoreB, opacity: 1}]}
  ]
});
drawBars(document.getElementById('panelABars1'), {names: barNamesA, values: codValuesA, ticks: codTicks, max: 1, top: 149, bottom: 803, title: 'CoD', titleX: 2058, titleY: 473});
drawBars(document.getElementById('panelABars2'), {names: barNamesA, values: rmseValuesA, ticks: rmseTicksA, max: .03173, top: 1064, bottom: 1717.6, title: 'RMSE', titleX: 2025, titleY: 1391});
drawBars(document.getElementById('panelBBars1'), {names: barNamesB, values: codValuesB, ticks: codTicks, max: 1, top: 2079, bottom: 2733, title: 'CoD', titleX: 2058, titleY: 2403});
drawBars(document.getElementById('panelBBars2'), {names: barNamesB, values: rmseValuesB, ticks: rmseTicksB, max: .07913, top: 2995.5, bottom: 3649, title: 'RMSE', titleX: 2025, titleY: 3322});
</script>
</body>
</html>
